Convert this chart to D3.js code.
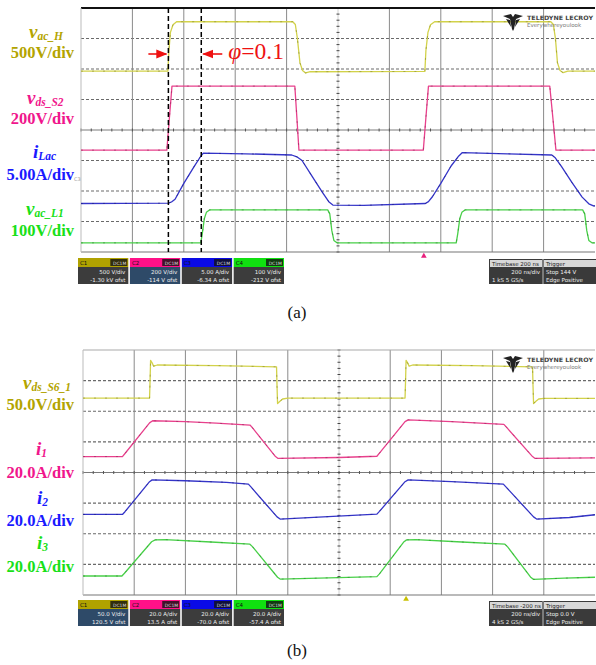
<!DOCTYPE html>
<html><head><meta charset="utf-8">
<script src="https://cdn.jsdelivr.net/npm/d3@7"></script>
<style>body{margin:0;background:#fff}svg{display:block}</style>
</head><body>
<svg id="c" width="596" height="665"></svg>
<script>
// ---------- data (scope divisions: [time div, level div from centre]) ----------
const timeDivs = d3.range(0, 11);
const levelDivs = d3.range(-4, 5);

// panel (a)
const aVacH = [[0,1.93],[1.69,1.93],[1.71,2.6],[1.74,3.2],[1.79,3.45],[1.86,3.55],[4.12,3.55],[4.17,3.46],[4.21,3.0],[4.26,2.2],[4.31,1.95],[4.37,1.87],[4.46,1.91],[6.69,1.92],[6.71,2.6],[6.75,3.2],[6.80,3.45],[6.88,3.55],[9.14,3.55],[9.19,3.46],[9.23,3.0],[9.27,2.2],[9.32,1.95],[9.38,1.88],[9.47,1.93],[10,1.93]];
const aVdsS2 = [[0,-0.66],[1.67,-0.66],[1.72,0.4],[1.77,1.44],[4.16,1.44],[4.20,0.4],[4.24,-0.66],[6.66,-0.66],[6.71,0.4],[6.76,1.44],[9.12,1.44],[9.18,0.4],[9.24,-0.66],[10,-0.66]];
const aILac = [[0,-2.41],[1.70,-2.40],[1.76,-2.36],[1.83,-2.27],[2.0,-1.75],[2.2,-1.2],[2.33,-0.86],[2.38,-0.76],[3.2,-0.78],[4.10,-0.82],[4.20,-0.88],[4.30,-1.0],[4.50,-1.53],[4.70,-2.05],[4.82,-2.35],[4.90,-2.46],[5.5,-2.47],[6.70,-2.41],[6.76,-2.35],[6.84,-2.18],[7.0,-1.75],[7.2,-1.18],[7.35,-0.85],[7.42,-0.74],[8.3,-0.78],[9.16,-0.82],[9.22,-0.9],[9.35,-1.2],[9.55,-1.72],[9.75,-2.2],[9.88,-2.42],[9.97,-2.49],[10,-2.49]];
const aVacL1 = [[0,-3.70],[2.33,-3.70],[2.36,-3.4],[2.40,-2.9],[2.44,-2.70],[2.50,-2.62],[4.80,-2.62],[4.84,-2.75],[4.88,-3.3],[4.92,-3.62],[4.98,-3.70],[7.30,-3.70],[7.33,-3.4],[7.37,-2.9],[7.41,-2.70],[7.47,-2.62],[9.76,-2.62],[9.80,-2.75],[9.84,-3.3],[9.88,-3.62],[9.94,-3.70],[10,-3.70]];
const aCursors = [1.70, 2.34];
const aLabels = [
  {v:"v", sub:"ac_H", scale:"500V/div", col:"#b3a400"},
  {v:"v", sub:"ds_S2", scale:"200V/div", col:"#f0168c"},
  {v:"i", sub:"Lac", scale:"5.00A/div", col:"#1a1aff"},
  {v:"v", sub:"ac_L1", scale:"100V/div", col:"#18e018"}
];
const aBoxes = [["C1","DC1M","500 V/div","-1.30 kV ofst"],["C2","DC1M","200 V/div","-114 V ofst"],["C3","DC1M","5.00 A/div","-6.34 A ofst"],["C4","DC1M","100 V/div","-212 V ofst"]];
const aInfo = ["Timebase  200 ns","Trigger","200 ns/div","Stop  144 V","1 kS  5 GS/s","Edge  Positive"];

// panel (b)
const bVdsS6 = [[0,2.43],[1.30,2.43],[1.31,3.0],[1.32,3.66],[1.35,3.58],[1.38,3.47],[1.45,3.51],[2.6,3.49],[3.78,3.45],[3.79,2.8],[3.80,2.25],[3.84,2.32],[3.90,2.40],[4.0,2.43],[6.29,2.43],[6.30,3.0],[6.31,3.66],[6.34,3.58],[6.37,3.47],[6.44,3.51],[7.6,3.49],[8.78,3.45],[8.79,2.8],[8.80,2.25],[8.84,2.32],[8.90,2.40],[9.0,2.42],[10,2.42]];
const bI1 = [[0,0.52],[0.77,0.52],[0.82,0.62],[1.30,1.62],[1.36,1.69],[2.0,1.66],[2.6,1.61],[3.26,1.55],[3.30,1.48],[3.76,0.52],[3.81,0.46],[5.0,0.49],[5.74,0.53],[5.79,0.63],[6.29,1.66],[6.35,1.72],[7.2,1.66],[8.22,1.57],[8.27,1.48],[8.78,0.52],[8.83,0.46],[10,0.48]];
const bI2 = [[0,-1.37],[0.77,-1.37],[0.82,-1.28],[1.30,-0.30],[1.35,-0.24],[2.0,-0.27],[2.8,-0.32],[3.23,-0.38],[3.28,-0.47],[3.79,-1.45],[3.85,-1.52],[4.6,-1.46],[5.74,-1.36],[5.79,-1.27],[6.29,-0.30],[6.35,-0.24],[7.2,-0.30],[8.21,-0.38],[8.26,-0.47],[8.80,-1.45],[8.86,-1.52],[9.5,-1.47],[10,-1.38]];
const bI3 = [[0,-3.38],[0.76,-3.38],[0.81,-3.29],[1.34,-2.26],[1.41,-2.20],[1.6,-2.19],[2.5,-2.27],[3.26,-2.34],[3.31,-2.42],[3.80,-3.42],[3.85,-3.48],[4.8,-3.44],[5.74,-3.40],[5.79,-3.31],[6.27,-2.26],[6.32,-2.20],[6.5,-2.19],[7.4,-2.27],[8.24,-2.34],[8.29,-2.42],[8.75,-3.43],[8.80,-3.49],[9.4,-3.45],[10,-3.42]];
const bLabels = [
  {v:"v", sub:"ds_S6_1", scale:"50.0V/div", col:"#b3a400"},
  {v:"i", sub:"1", scale:"20.0A/div", col:"#f0168c"},
  {v:"i", sub:"2", scale:"20.0A/div", col:"#1a1aff"},
  {v:"i", sub:"3", scale:"20.0A/div", col:"#18e018"}
];
const bBoxes = [["C1","DC1M","50.0 V/div","120.5 V ofst"],["C2","DC1M","20.0 A/div","13.5 A ofst"],["C3","DC1M","20.0 A/div","-70.0 A ofst"],["C4","DC1M","20.0 A/div","-57.4 A ofst"]];
const bInfo = ["Timebase  -200 ns","Trigger","200 ns/div","Stop  0.0 V","4 kS  2 GS/s","Edge  Positive"];

const traceCols = ["#d2d24a","#e8408c","#3434c8","#48d048"];
const hdrCols = ["#b0a200","#ff1188","#0a0ae6","#10e010"];

// ---------- drawing ----------
const svg = d3.select("#c");
const serif = "'Liberation Serif','Times New Roman',serif";

function panel(cfg){
  const g = svg.append("g");
  const x = d3.scaleLinear().domain([0,10]).range([cfg.x0, cfg.x1]);
  const y = d3.scaleLinear().domain([-4,4]).range([cfg.yb, cfg.yt]);
  // horizontal grid
  g.selectAll(".hg").data(levelDivs.filter(d=>d!==0 && Math.abs(d)!==4)).join("line")
    .attr("x1",x(0)).attr("x2",x(10)).attr("y1",d=>y(d)).attr("y2",d=>y(d))
    .attr("stroke","#6a6a6a").attr("stroke-width",1.1).attr("stroke-dasharray","3,2");
  // vertical grid
  g.selectAll(".vg").data(timeDivs.filter(d=>d>0 && d<10 && d!==5)).join("line")
    .attr("x1",d=>x(d)).attr("x2",d=>x(d)).attr("y1",y(4)).attr("y2",y(-4))
    .attr("stroke","#8a8a8a").attr("stroke-width",1);
  // centre axes with minor ticks
  g.append("line").attr("x1",x(0)).attr("x2",x(10)).attr("y1",y(0)).attr("y2",y(0)).attr("stroke","#7a7a7a");
  g.append("line").attr("x1",x(5)).attr("x2",x(5)).attr("y1",y(4)).attr("y2",y(-4)).attr("stroke","#d0d0d0");
  const minorT = d3.range(0,50).map(i=>i/5);
  g.selectAll(".mt").data(minorT).join("line")
    .attr("x1",d=>x(d)).attr("x2",d=>x(d)).attr("y1",y(0)-1.5).attr("y2",y(0)+1.5).attr("stroke","#555");
  const minorL = d3.range(-20,21).map(i=>i/5);
  g.selectAll(".ml").data(minorL).join("line")
    .attr("x1",x(5)-1.5).attr("x2",x(5)+1.5).attr("y1",d=>y(d)).attr("y2",d=>y(d)).attr("stroke","#444");
  // border
  g.append("line").attr("x1",x(0)).attr("x2",x(10)).attr("y1",y(4)).attr("y2",y(4))
    .attr("stroke",cfg.topCol).attr("stroke-width",cfg.topW);
  g.append("line").attr("x1",x(0)).attr("x2",x(10)).attr("y1",y(-4)).attr("y2",y(-4)).attr("stroke","#777").attr("stroke-width",1.2);
  g.append("line").attr("x1",x(0)).attr("x2",x(0)).attr("y1",y(4)).attr("y2",y(-4)).attr("stroke","#bbb");

  // traces
  const line = d3.line().x(d=>x(d[0])).y(d=>y(d[1]));
  cfg.traces.forEach((t,i)=>{
    g.append("path").datum(t).attr("d",line).attr("fill","none")
      .attr("stroke",traceCols[i]).attr("stroke-width",1.3).attr("stroke-linejoin","round");
    g.append("path").datum(t).attr("d",line).attr("fill","none")
      .attr("stroke",d3.color(traceCols[i]).darker(1.2)).attr("stroke-width",1)
      .attr("stroke-dasharray","2,9").attr("opacity",0.6);
  });

  // labels
  cfg.labels.forEach((L,i)=>{
    const pos = cfg.labelPos[i];
    const t1 = g.append("text").attr("x",pos[0]).attr("y",pos[1]).attr("fill",L.col)
      .attr("font-family",serif).attr("font-weight","bold").attr("font-style","italic");
    t1.append("tspan").attr("font-size",19).text(L.v);
    t1.append("tspan").attr("font-size",11.5).attr("dy",2).text(L.sub);
    g.append("text").attr("x",74).attr("y",pos[2]).attr("text-anchor","end").attr("fill",L.col)
      .attr("font-family",serif).attr("font-weight","bold").attr("font-size",16.5).text(L.scale);
  });

  // channel boxes
  const bx = d3.scaleBand().domain(d3.range(4)).range([78,284]).paddingInner(0.03);
  const bg = g.selectAll(".bx").data(cfg.boxes).join("g").attr("transform",(d,i)=>`translate(${bx(i)},${cfg.boxY})`);
  bg.append("rect").attr("width",bx.bandwidth()).attr("height",9).attr("fill",(d,i)=>hdrCols[i]);
  bg.append("rect").attr("y",9).attr("width",bx.bandwidth()).attr("height",17).attr("fill",(d,i)=>i===cfg.blueBody?"#2e4a68":"#3c3c3c");
  bg.append("rect").attr("x",bx.bandwidth()-18).attr("y",1).attr("width",17).attr("height",7).attr("fill","#111").attr("opacity",0.8);
  bg.append("text").attr("x",2).attr("y",7).attr("font-size",5.5).attr("fill","#111").attr("font-family","DejaVu Sans").text(d=>d[0]);
  bg.append("text").attr("x",bx.bandwidth()-2).attr("y",7).attr("text-anchor","end").attr("font-size",4.5).attr("fill","#ddd").attr("font-family","DejaVu Sans").text(d=>d[1]);
  bg.append("text").attr("x",bx.bandwidth()-3).attr("y",16).attr("text-anchor","end").attr("font-size",5.5).attr("fill","#eee").attr("font-family","DejaVu Sans").text(d=>d[2]);
  bg.append("text").attr("x",bx.bandwidth()-3).attr("y",23.5).attr("text-anchor","end").attr("font-size",5.5).attr("fill","#eee").attr("font-family","DejaVu Sans").text(d=>d[3]);

  // timebase box
  const ig = g.append("g").attr("transform",`translate(489,${cfg.boxY+1})`);
  ig.append("rect").attr("width",107).attr("height",25).attr("fill","#3a3a3a");
  ig.append("rect").attr("x",1).attr("y",1).attr("width",52).attr("height",7).attr("fill","#d8d8d8");
  ig.append("rect").attr("x",55).attr("y",1).attr("width",52).attr("height",7).attr("fill","#d8d8d8");
  ig.append("line").attr("x1",54).attr("x2",54).attr("y1",0).attr("y2",25).attr("stroke","#bbb");
  const it = [[3,7,0,"#222","start"],[57,7,1,"#222","start"],[51,15,2,"#eee","end"],[57,15,3,"#eee","start"],[3,23,4,"#eee","start"],[57,23,5,"#eee","start"]];
  it.forEach(p=>ig.append("text").attr("x",p[0]).attr("y",p[1]).attr("text-anchor",p[4]).attr("font-size",5.5)
    .attr("fill",p[3]).attr("font-family","DejaVu Sans").text(cfg.info[p[2]]));

  // trigger marker
  g.append("path").attr("d",d3.symbol(d3.symbolTriangle,14)())
    .attr("transform",`translate(${x(cfg.trig)},${y(-4)+4})`).attr("fill",cfg.trigCol);

  // logo
  const lg = g.append("g").attr("transform",`translate(503,${y(4)+5})`);
  lg.append("path").attr("d","M0,3 L8,1 L10,4 L12,1 L20,3 L13,6 L11,16 L10,18 L9,16 L7,6 Z").attr("fill","#222");
  lg.append("path").attr("d","M3,6 L7,7 L8,14 Z M17,6 L13,7 L12,14 Z").attr("fill","#222");
  lg.append("text").attr("x",24).attr("y",7).attr("font-size",6).attr("font-weight","bold").attr("fill","#444")
    .attr("font-family","DejaVu Sans").attr("textLength",66).attr("lengthAdjust","spacingAndGlyphs").text("TELEDYNE LECROY");
  lg.append("text").attr("x",24).attr("y",14).attr("font-size",5.5).attr("fill","#777")
    .attr("font-family","DejaVu Sans").text("Everywhereyoulook");

  // caption
  svg.append("text").attr("x",297).attr("y",cfg.capY).attr("text-anchor","middle")
    .attr("font-family",serif).attr("font-size",17).attr("fill","#111").text(cfg.cap);
  return {g,x,y};
}

const A = panel({x0:81, x1:595, yt:8, yb:252, topCol:"#111", topW:2.2,
  traces:[aVacH,aVdsS2,aILac,aVacL1], labels:aLabels,
  labelPos:[[29,38,58],[27,104,124],[33,158,180],[26,215,236]],
  boxes:aBoxes, blueBody:1, boxY:258, info:aInfo, trig:6.67, trigCol:"#e8207c", cap:"(a)", capY:318});

// cursors and phase annotation on (a)
A.g.selectAll(".cur").data(aCursors).join("line")
  .attr("x1",d=>A.x(d)).attr("x2",d=>A.x(d)).attr("y1",A.y(4)).attr("y2",A.y(-4))
  .attr("stroke","#000").attr("stroke-width",1.5).attr("stroke-dasharray","5,3");
const defs = svg.append("defs");
defs.append("marker").attr("id","ah").attr("viewBox","0 0 10 10").attr("refX",9).attr("refY",5)
  .attr("markerWidth",7).attr("markerHeight",7).attr("orient","auto-start-reverse")
  .append("path").attr("d","M0,1 L10,5 L0,9 Z").attr("fill","#ee1111");
A.g.append("line").attr("x1",A.x(aCursors[0])-20).attr("x2",A.x(aCursors[0])-2).attr("y1",54).attr("y2",54)
  .attr("stroke","#ee1111").attr("stroke-width",1.6).attr("marker-end","url(#ah)");
A.g.append("line").attr("x1",A.x(aCursors[1])+21).attr("x2",A.x(aCursors[1])+2).attr("y1",54).attr("y2",54)
  .attr("stroke","#ee1111").attr("stroke-width",1.6).attr("marker-end","url(#ah)");
const ph = A.g.append("text").attr("x",A.x(aCursors[1])+27).attr("y",59).attr("fill","#ee1111")
  .attr("font-family",serif).attr("font-size",23.5);
ph.append("tspan").attr("font-style","italic").text("φ");
ph.append("tspan").text("=0.1");
A.g.append("text").attr("x",74).attr("y",181).attr("font-size",5).attr("fill","#999").attr("font-family","DejaVu Sans").text("C3");

panel({x0:83, x1:595, yt:350, yb:595, topCol:"#aaa", topW:1.2,
  traces:[bVdsS6,bI1,bI2,bI3], labels:bLabels,
  labelPos:[[23,389,410],[36,455,478],[37,504,526],[37,549,572]],
  boxes:bBoxes, blueBody:0, boxY:600, info:bInfo, trig:6.31, trigCol:"#c8c000", cap:"(b)", capY:656});
</script>
</body></html>
